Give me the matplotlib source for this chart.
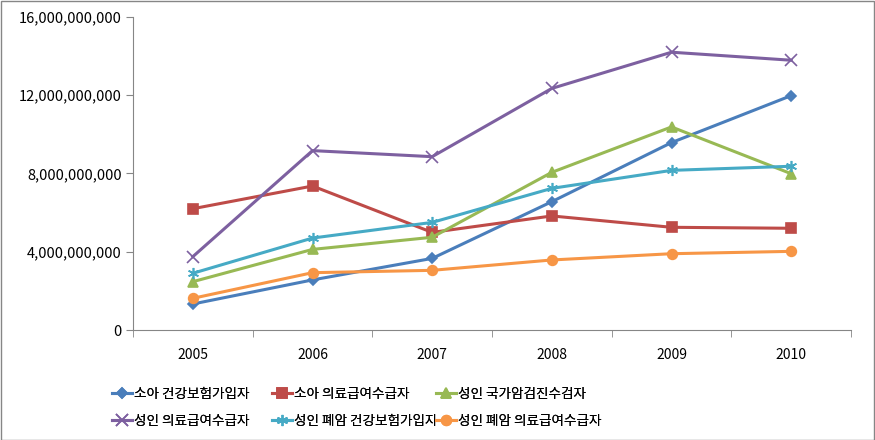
import matplotlib
matplotlib.use("Agg")
import matplotlib.pyplot as plt
from matplotlib.patches import Rectangle
from matplotlib.ticker import FuncFormatter, FixedLocator

plt.rcParams["font.family"] = ["Noto Sans CJK KR", "DejaVu Sans"]

years = ["2005", "2006", "2007", "2008", "2009", "2010"]

child_insured = [1.33e9, 2.56e9, 3.66e9, 6.56e9, 9.58e9, 11.98e9]
child_aid = [6.20e9, 7.36e9, 4.99e9, 5.83e9, 5.25e9, 5.20e9]
adult_screen = [2.47e9, 4.12e9, 4.74e9, 8.06e9, 10.38e9, 7.99e9]
adult_aid = [3.75e9, 9.17e9, 8.86e9, 12.35e9, 14.20e9, 13.79e9]
lung_insured = [2.90e9, 4.70e9, 5.50e9, 7.24e9, 8.16e9, 8.37e9]
lung_aid = [1.62e9, 2.93e9, 3.05e9, 3.58e9, 3.90e9, 4.02e9]

labels = ["소아 건강보험가입자", "소아 의료급여수급자", "성인 국가암검진수검자",
          "성인 의료급여수급자", "성인 폐암 건강보험가입자", "성인 폐암 의료급여수급자"]
series = [child_insured, child_aid, adult_screen, adult_aid, lung_insured, lung_aid]
colors = ["#4A7EBB", "#BE4B48", "#98B954", "#7D60A0", "#46AAC5", "#F79646"]
markers = ["D", "s", "^", "x", (6, 2, 0), "o"]
msizes = [5.5, 7, 7, 8, 8, 7]

fig = plt.figure(figsize=(8.75, 4.4), dpi=100)
ax = fig.add_axes([133 / 875, 110 / 440, 718 / 875, 313 / 440])

x = list(range(len(years)))
handles = []
for s, lab, c, m, ms in zip(series, labels, colors, markers, msizes):
    h, = ax.plot(x, s, color=c, lw=2.2, marker=m, markersize=ms,
                 markeredgecolor=c, markerfacecolor=c, markeredgewidth=1.2,
                 label=lab)
    handles.append(h)

ax.set_xlim(-0.5, len(years) - 0.5)
ax.set_ylim(0, 16e9)
ax.set_yticks([0, 4e9, 8e9, 12e9, 16e9])
ax.yaxis.set_major_formatter(FuncFormatter(lambda v, p: f"{v:,.0f}"))

ax.set_xticks(x)
ax.set_xticklabels(years)
ax.xaxis.set_minor_locator(FixedLocator([i - 0.5 for i in range(len(years) + 1)]))
ax.tick_params(axis="x", which="major", length=0, pad=13, labelsize=10)
ax.tick_params(axis="x", which="minor", length=5, color="#868686", direction="out")
ax.tick_params(axis="y", length=5, color="#868686", labelsize=10.5, pad=3)

for side in ["top", "right"]:
    ax.spines[side].set_visible(False)
for side in ["left", "bottom"]:
    ax.spines[side].set_color("#868686")

# legend: Excel-style fixed columns, one legend per column
col_x = [112, 272, 436]
for col, xpix in enumerate(col_x):
    idx = [col, col + 3]
    leg = fig.legend([handles[i] for i in idx], [labels[i] for i in idx],
                     ncol=1, frameon=False, loc="lower left",
                     bbox_to_anchor=(xpix / 875, 12 / 440), fontsize=9.8,
                     handlelength=1.5, handletextpad=0.1,
                     labelspacing=0.95, borderaxespad=0, borderpad=0)
    fig.add_artist(leg)

fig.add_artist(Rectangle((0.5 / 875, 0.5 / 440), 873 / 875, 438 / 440,
                         transform=fig.transFigure, fill=False,
                         edgecolor="#868686", lw=1))

fig.savefig("out.png", dpi=100)
